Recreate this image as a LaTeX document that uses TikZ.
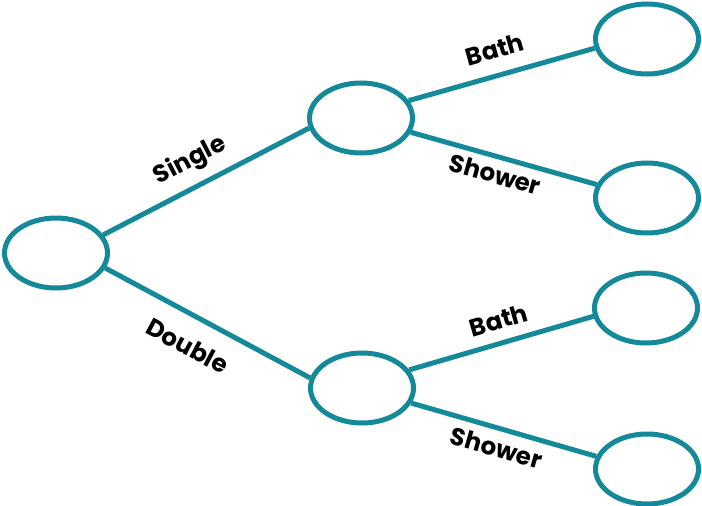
\documentclass[tikz,border=0pt]{standalone}
\usepackage{fontspec}
\setmainfont{Poppins}
\usetikzlibrary{shapes.geometric}
\definecolor{teal}{RGB}{20,137,153}
\tikzset{
  leaf/.style={ellipse,draw=teal,line width=5pt,minimum width=103pt,minimum height=70pt,inner sep=0pt},
  branch/.style={draw=teal,line width=5pt},
  lbl/.style={sloped,inner sep=0pt,font=\fontsize{24.5}{28}\selectfont\bfseries,text=black}
}
\begin{document}
\begin{tikzpicture}[x=1pt,y=-1pt]
\useasboundingbox (0,0) rectangle (702,506);
\node[leaf] (root) at (56,253) {};
\node[leaf] (m1) at (361,118) {};
\node[leaf] (m2) at (362,388) {};
\node[leaf] (r1) at (647,39) {};
\node[leaf] (r2) at (647,198) {};
\node[leaf] (r3) at (646,308) {};
\node[leaf] (r4) at (647,469) {};
\draw[branch] (root.21) -- node[lbl,pos=0.48,above=10pt] {Single} (m1.191);
\draw[branch] (root.343) -- node[lbl,pos=0.47,below=18pt] {Double} (m2.169);
\draw[branch] (m1.20) -- node[lbl,pos=0.5,above=14pt] {Bath} (r1.190);
\draw[branch] (m1.344) -- node[lbl,pos=0.48,below=6pt] {Shower} (r2.165);
\draw[branch] (m2.21) -- node[lbl,pos=0.52,above=11pt] {Bath} (r3.189);
\draw[branch] (m2.343) -- node[lbl,pos=0.49,below=8pt] {Shower} (r4.166);
\end{tikzpicture}
\end{document}
